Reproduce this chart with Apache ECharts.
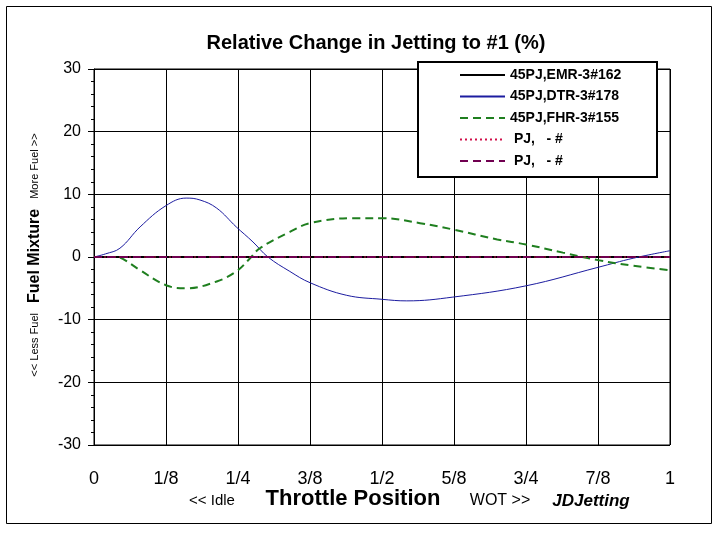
<!DOCTYPE html>
<html><head><meta charset="utf-8">
<script src="https://cdn.jsdelivr.net/npm/echarts@6/dist/echarts.min.js"></script>
<style>html,body{margin:0;padding:0;background:#fff}#c{width:720px;height:540px}</style>
</head><body><div id="c"></div>
<script>
const xTickLabels = ['0','1/8','1/4','3/8','1/2','5/8','3/4','7/8','1'];
const seriesNames = ['45PJ,EMR-3#162','45PJ,DTR-3#178','45PJ,FHR-3#155',' PJ,   - #',' PJ,   - # '];
const emrX = [0, 0.125, 0.25, 0.375, 0.5, 0.625, 0.75, 0.875, 1];
const emrY = [0, 0, 0, 0, 0, 0, 0, 0, 0];
const dtrX = [0, 0.02, 0.045, 0.08, 0.125, 0.16, 0.184, 0.213, 0.247, 0.276, 0.302, 0.34, 0.375, 0.438, 0.5, 0.543, 0.623, 0.75, 0.875, 0.936, 1];
const dtrY = [0, 0.5, 1.4, 4.8, 8.2, 9.4, 9.1, 7.8, 4.8, 2.4, 0, -2.3, -4.1, -6.1, -6.75, -7.0, -6.4, -4.6, -1.65, -0.2, 1.0];
const fhrX = [0, 0.04, 0.05, 0.08, 0.125, 0.16, 0.213, 0.247, 0.271, 0.288, 0.34, 0.375, 0.45, 0.5, 0.566, 0.623, 0.7, 0.75, 0.814, 0.875, 0.936, 1];
const fhrY = [0, 0, -0.3, -2.1, -4.5, -5.0, -3.9, -2.3, -0.2, 1.4, 4.0, 5.4, 6.2, 6.2, 5.4, 4.4, 2.8, 2.0, 0.7, -0.5, -1.4, -2.1];
const pj1Y = [0, 0, 0, 0, 0, 0, 0, 0, 0];
const pj2Y = [0, 0, 0, 0, 0, 0, 0, 0, 0];

const pairs = (xs, ys) => xs.map((x, i) => [x, ys[i]]);
const chart = echarts.init(document.getElementById('c'), null, {renderer: 'canvas'});
const F = 'Arial, "Liberation Sans", sans-serif';
chart.setOption({
  backgroundColor: '#fff',
  animation: false,
  grid: {left: 94, right: 50, top: 69, bottom: 95, show: true, borderColor: '#000', borderWidth: 1, backgroundColor: 'transparent'},
  xAxis: {
    type: 'value', min: 0, max: 1, interval: 0.125,
    axisLine: {show: true, lineStyle: {color: '#000', width: 1}},
    axisTick: {show: false},
    splitLine: {show: true, lineStyle: {color: '#000', width: 1}},
    axisLabel: {fontFamily: F, fontSize: 18, color: '#000', margin: 25,
      formatter: v => xTickLabels[Math.round(v * 8)]}
  },
  yAxis: {
    type: 'value', min: -30, max: 30, interval: 10,
    axisLine: {show: true, lineStyle: {color: '#000', width: 1}},
    axisTick: {show: true, length: 6, lineStyle: {color: '#000'}},
    minorTick: {show: true, splitNumber: 5, length: 3, lineStyle: {color: '#000'}},
    splitLine: {show: true, lineStyle: {color: '#000', width: 1}},
    axisLabel: {fontFamily: F, fontSize: 16, color: '#000', margin: 13}
  },
  legend: {
    orient: 'vertical', left: 459, top: 68, padding: 0, itemGap: 7.5,
    itemWidth: 45, itemHeight: 12,
    itemStyle: {opacity: 0},
    textStyle: {fontFamily: F, fontSize: 14, fontWeight: 'bold', color: '#000'},
    data: seriesNames
  },
  series: [
    {name: seriesNames[0], type: 'line', symbol: 'none', data: pairs(emrX, emrY), lineStyle: {color: '#000', width: 2}, itemStyle: {color: '#000'}, z: 3},
    {name: seriesNames[1], type: 'line', symbol: 'none', smooth: 0.4, data: pairs(dtrX, dtrY), lineStyle: {color: '#1c1ca0', width: 1}, itemStyle: {color: '#1c1ca0'}, z: 4},
    {name: seriesNames[2], type: 'line', symbol: 'none', smooth: 0.4, data: pairs(fhrX, fhrY), lineStyle: {color: '#1f7f1f', width: 2, type: [8, 5]}, itemStyle: {color: '#1f7f1f'}, z: 5},
    {name: seriesNames[3], type: 'line', symbol: 'none', data: pairs(emrX, pj1Y), lineStyle: {color: '#d0104a', width: 1, type: [2, 3]}, itemStyle: {color: '#d0104a'}, z: 6},
    {name: seriesNames[4], type: 'line', symbol: 'none', data: pairs(emrX, pj2Y), lineStyle: {color: '#700050', width: 2, type: [8, 5]}, itemStyle: {color: '#700050'}, z: 7}
  ],
  graphic: [
    {type: 'rect', shape: {x: 6.5, y: 6.5, width: 705, height: 517}, style: {fill: 'none', stroke: '#000', lineWidth: 1}, z: 0, silent: true},
    {type: 'rect', shape: {x: 418, y: 62, width: 239, height: 115}, style: {fill: '#fff', stroke: '#000', lineWidth: 2}, z: 1, silent: true},
    {type: 'text', x: 376, y: 43, style: {text: 'Relative Change in Jetting to #1 (%)', font: 'bold 20px ' + F, fill: '#000', align: 'center', verticalAlign: 'middle'}},
    {type: 'text', x: 212, y: 501, style: {text: '<< Idle', font: '15px ' + F, fill: '#000', align: 'center', verticalAlign: 'middle'}},
    {type: 'text', x: 353, y: 499, style: {text: 'Throttle Position', font: 'bold 22px ' + F, fill: '#000', align: 'center', verticalAlign: 'middle'}},
    {type: 'text', x: 500, y: 501, style: {text: 'WOT >>', font: '16px ' + F, fill: '#000', align: 'center', verticalAlign: 'middle'}},
    {type: 'text', x: 591, y: 501, style: {text: 'JDJetting', font: 'italic bold 17px ' + F, fill: '#000', align: 'center', verticalAlign: 'middle'}},
    {type: 'text', x: 35, y: 255, rotation: Math.PI / 2,
      style: {text: '{a|<< Less Fuel}   {b|Fuel Mixture}   {a|More Fuel >>}', align: 'center', verticalAlign: 'middle', fill: '#000',
        rich: {a: {font: '11px ' + F, fill: '#000'}, b: {font: 'bold 16px ' + F, fill: '#000'}}}}
  ]
});
</script></body></html>
